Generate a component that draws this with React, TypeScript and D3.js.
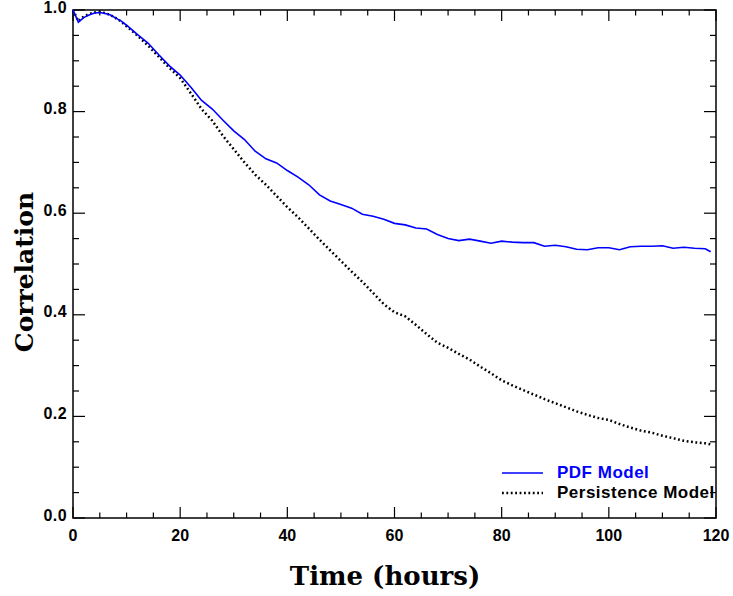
import React from 'react';
import * as d3 from 'd3';

// hours since start
const hours = [
  0, 1, 2, 3, 4, 5, 6, 7, 8, 9, 10, 12, 14, 16, 18, 20, 22, 24, 26, 28, 30, 32, 34, 36, 38,
  40, 42, 44, 46, 48, 50, 52, 54, 56, 58, 60, 62, 64, 66, 68, 70, 72, 74, 76, 78, 80, 82, 84,
  86, 88, 90, 92, 94, 96, 98, 100, 102, 104, 106, 108, 110, 112, 114, 116, 118, 119,
];

const pdfModel = [
  1.0, 0.976, 0.985, 0.99, 0.994, 0.995, 0.993, 0.99, 0.984, 0.978, 0.97, 0.952, 0.935, 0.912,
  0.89, 0.872, 0.848, 0.822, 0.805, 0.783, 0.762, 0.745, 0.722, 0.707, 0.699, 0.684, 0.671,
  0.656, 0.636, 0.624, 0.617, 0.61, 0.598, 0.594, 0.588, 0.58, 0.577, 0.571, 0.569, 0.558,
  0.55, 0.546, 0.549, 0.545, 0.541, 0.545, 0.543, 0.542, 0.542, 0.535, 0.537, 0.534, 0.529,
  0.528, 0.532, 0.532, 0.528, 0.534, 0.535, 0.535, 0.536, 0.531, 0.533, 0.531, 0.53, 0.524,
];

const persistenceModel = [
  1.0, 0.978, 0.987, 0.992, 0.995, 0.996, 0.994, 0.99, 0.984, 0.977, 0.968, 0.95, 0.93, 0.908,
  0.886, 0.866, 0.836, 0.805, 0.782, 0.752, 0.726, 0.7, 0.676, 0.656, 0.634, 0.612, 0.592,
  0.57, 0.548, 0.527, 0.506, 0.485, 0.465, 0.443, 0.421, 0.405, 0.397, 0.38, 0.362, 0.345,
  0.335, 0.323, 0.312, 0.298, 0.285, 0.271, 0.261, 0.252, 0.243, 0.234, 0.226, 0.218, 0.21,
  0.203, 0.197, 0.193, 0.185, 0.178, 0.172, 0.168, 0.162, 0.157, 0.152, 0.149, 0.147, 0.145,
];

const xTicks = [0, 20, 40, 60, 80, 100, 120];
const yTicks = [0, 0.2, 0.4, 0.6, 0.8, 1.0];

const BLUE = '#0000ff';
const tickFont = "'Liberation Sans', Arial, sans-serif";
const titleFont = "'DejaVu Serif', serif";

export default function App() {
  const x = d3.scaleLinear().domain([0, 120]).range([73, 716]);
  const y = d3.scaleLinear().domain([0, 1]).range([518, 10]);

  const line = d3
    .line<number>()
    .x((_, i) => x(hours[i]))
    .y((d) => y(d));

  const xMinor = d3.range(0, 121, 5).filter((v) => v % 20 !== 0);
  const yMinor = d3.range(0, 21, 1).map((v) => v / 20).filter((v, i) => i % 4 !== 0);

  const [x0, x1] = x.range();
  const [y0, y1] = y.range();

  return (
    <svg
      width={733}
      height={596}
      style={{ position: 'absolute', left: 0, top: 0, background: '#fff' }}
    >
      {/* frame */}
      <rect x={x0} y={y1} width={x1 - x0} height={y0 - y1} fill="none" stroke="#000" strokeWidth={1.5} />

      {/* x ticks, bottom + top */}
      {xTicks.map((t) => (
        <g key={'xt' + t}>
          <line x1={x(t)} x2={x(t)} y1={y0} y2={y0 - 11} stroke="#000" strokeWidth={1.2} />
          <line x1={x(t)} x2={x(t)} y1={y1} y2={y1 + 11} stroke="#000" strokeWidth={1.2} />
          <text
            x={x(t)}
            y={541}
            textAnchor="middle"
            fontFamily={tickFont}
            fontWeight="bold"
            fontSize={16}
          >
            {t}
          </text>
        </g>
      ))}
      {xMinor.map((t) => (
        <g key={'xm' + t}>
          <line x1={x(t)} x2={x(t)} y1={y0} y2={y0 - 5.5} stroke="#000" strokeWidth={1.2} />
          <line x1={x(t)} x2={x(t)} y1={y1} y2={y1 + 5.5} stroke="#000" strokeWidth={1.2} />
        </g>
      ))}

      {/* y ticks, left + right */}
      {yTicks.map((t) => (
        <g key={'yt' + t}>
          <line x1={x0} x2={x0 + 12} y1={y(t)} y2={y(t)} stroke="#000" strokeWidth={1.2} />
          <line x1={x1} x2={x1 - 12} y1={y(t)} y2={y(t)} stroke="#000" strokeWidth={1.2} />
          <text
            x={67}
            y={y(t) + 2.5}
            textAnchor="end"
            fontFamily={tickFont}
            fontWeight="bold"
            fontSize={16}
            letterSpacing={0.4}
          >
            {t.toFixed(1)}
          </text>
        </g>
      ))}
      {yMinor.map((t) => (
        <g key={'ym' + t}>
          <line x1={x0} x2={x0 + 6} y1={y(t)} y2={y(t)} stroke="#000" strokeWidth={1.2} />
          <line x1={x1} x2={x1 - 6} y1={y(t)} y2={y(t)} stroke="#000" strokeWidth={1.2} />
        </g>
      ))}

      {/* series */}
      <path d={line(persistenceModel) ?? ''} fill="none" stroke="#000" strokeWidth={2.5} strokeDasharray="1.8,2.6" />
      <path d={line(pdfModel) ?? ''} fill="none" stroke={BLUE} strokeWidth={1.6} />

      {/* legend */}
      <line x1={502} x2={543} y1={473} y2={473} stroke={BLUE} strokeWidth={1.6} />
      <text x={557} y={478} fontFamily={tickFont} fontWeight="bold" fontSize={17} letterSpacing={0.5} fill={BLUE}>
        PDF Model
      </text>
      <line x1={502} x2={543} y1={493} y2={493} stroke="#000" strokeWidth={2.5} strokeDasharray="1.8,2.6" />
      <text x={557} y={498} fontFamily={tickFont} fontWeight="bold" fontSize={17} letterSpacing={0.5} fill="#000">
        Persistence Model
      </text>

      {/* titles */}
      <text
        x={385}
        y={585}
        textAnchor="middle"
        fontFamily={titleFont}
        fontWeight="bold"
        fontSize={26}
      >
        Time (hours)
      </text>
      <text
        transform="translate(33, 272) rotate(-90)"
        textAnchor="middle"
        fontFamily={titleFont}
        fontWeight="bold"
        fontSize={25}
      >
        Correlation
      </text>
    </svg>
  );
}
